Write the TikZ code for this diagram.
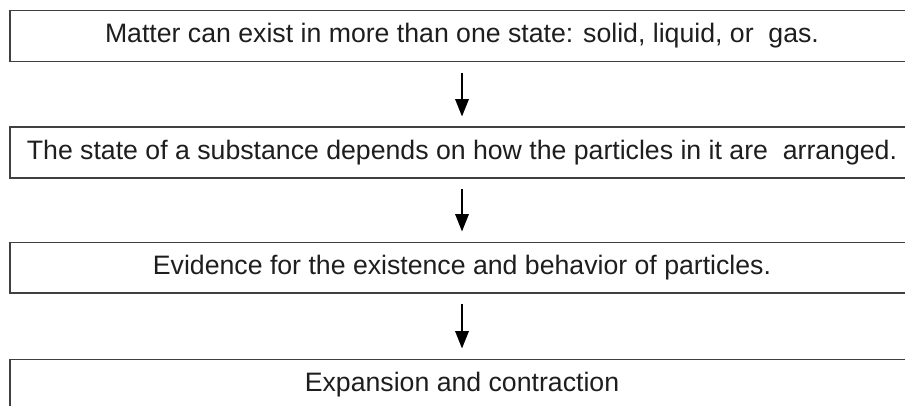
\documentclass[tikz,border=0pt]{standalone}
\usepackage{fontspec}
\setmainfont{Liberation Sans}
\usepackage{xcolor}
\usepackage{tikz}
\usetikzlibrary{arrows.meta, positioning}
\definecolor{mydark}{RGB}{30,30,30}
\definecolor{myframe}{RGB}{64,64,64}
\tikzset{
  statebox/.style={rectangle, draw=myframe, fill=white,
    minimum width=678pt, minimum height=38pt, inner sep=0pt,
    font=\fontsize{20}{24}\selectfont, text=mydark, line width=1pt},
  arrow/.style={-{Triangle[length=13pt, width=10pt]}, line width=1.5pt,
    color=black, shorten <=8pt, shorten >=7.5pt}
}

\begin{document}
\begin{tikzpicture}[x=0.75pt, y=-0.75pt]
  % ── Frame ─────────────────────────────────────────────────────────
  \useasboundingbox (0, 0) rectangle (905, 406);
  \clip (0, 0) rectangle (905, 406);

  % ── Boxes ─────────────────────────────────────────────────────────
  \node[statebox] (matter)    at (462, 36)    {Matter can exist in more than one state: solid, liquid, or~ gas.};
  \node[statebox] (arranged)  at (462, 152.5) {The state of a substance depends on how the particles in it are~ arranged.};
  \node[statebox] (evidence)  at (462, 267.5) {Evidence for the existence and behavior of particles.};
  \node[statebox] (expansion) at (462, 384.5) {Expansion and contraction};

  % ── Arrows ────────────────────────────────────────────────────────
  \draw[arrow] (matter)   -- (arranged);
  \draw[arrow] (arranged) -- (evidence);
  \draw[arrow] (evidence) -- (expansion);
\end{tikzpicture}
\end{document}
